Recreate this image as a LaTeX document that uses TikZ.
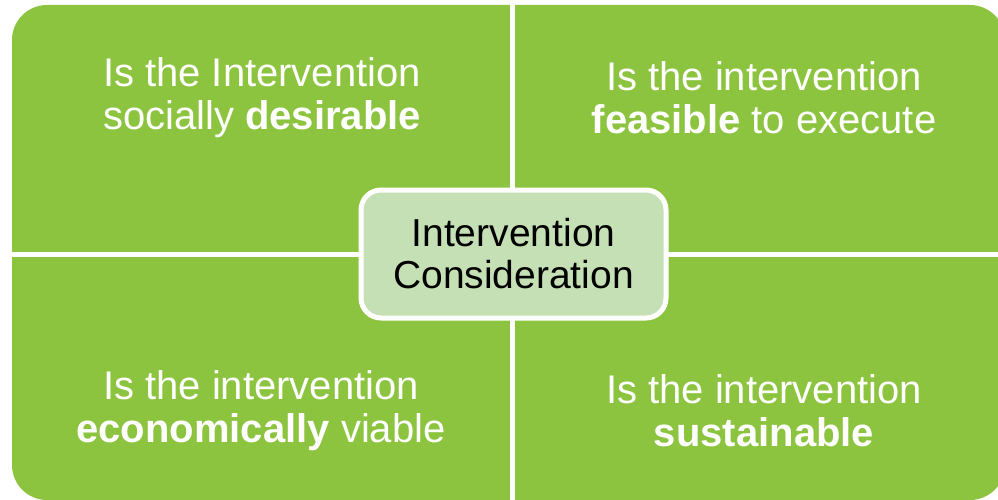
\documentclass[tikz,border=0pt]{standalone}
\usepackage{fontspec}
\setmainfont{Liberation Sans}
\usetikzlibrary{shapes}
\definecolor{leaf}{RGB}{140,196,64}
\definecolor{paleleaf}{RGB}{197,224,180}
\tikzstyle{quad}=[text=white,align=center,font=\fontsize{40}{43}\selectfont]
\tikzstyle{hub}=[rectangle,rounded corners=20,fill=paleleaf,draw=white,line width=5,
  minimum width=305,minimum height=128,inner sep=0pt,align=center,
  font=\fontsize{39}{42}\selectfont]
\tikzstyle{gap} = [draw,white,line width=5]

\begin{document}
\begin{tikzpicture}[x=1pt,y=-1pt]
    \useasboundingbox (0,0) rectangle (998,500);
    % Green board, cut into four by white gaps
    \fill[leaf,rounded corners=35] (12,5) rectangle (1005,500);
    \coordinate (gtop) at (512.5,0);
    \coordinate (gbot) at (512.5,500);
    \coordinate (gleft) at (0,254);
    \coordinate (gright) at (1005,254);
    \path[gap] (gtop) -- (gbot);
    \path[gap] (gleft) -- (gright);
    % The four questions
    \foreach \pos/\name/\txt in {{(262,98)/desir/{Is the Intervention\\socially \textbf{desirable}}},
        {(764,98)/feas/{Is the intervention\\\textbf{feasible} to execute}},
        {(261,411)/econ/{Is the intervention\\\textbf{economically} viable}},
        {(764,411)/sust/{Is the intervention\\\textbf{sustainable}}}}
        \node[quad] (\name) at \pos {\txt};
    % Middle box
    \node[hub] (core) at (513.5,254) {Intervention\\Consideration};
\end{tikzpicture}
\end{document}
